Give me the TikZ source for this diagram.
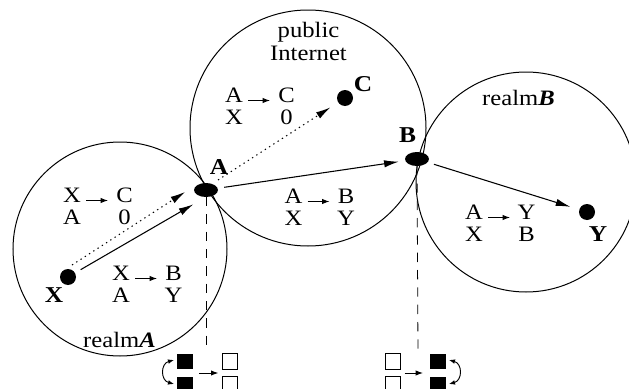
\documentclass[tikz,border=0pt]{standalone}
\usepackage{fontspec}
\setmainfont{Liberation Serif}[FakeStretch=1.12]
\usetikzlibrary{arrows.meta,shapes.geometric,calc}

% two-row address mapping: #1 name, (#2,#3) base of the upper left entry
\newcommand\maptab[7]{%
  \node[cell] (#1a) at (#2,#3) {#4};
  \node[cell] (#1b) at (#2+52.5,#3) {#5};
  \node[cell] (#1c) at (#2,#3+22.5) {#6};
  \node[cell] (#1d) at (#2+52.5,#3+22.5) {#7};
  \draw[tabarrow] ([shift={(14,-1.5)}]#1a.base) -- ([shift={(-16.5,-1.5)}]#1b.base);
}

\begin{document}
\begin{tikzpicture}[x=0.75pt,y=-0.75pt,
  every node/.style={inner sep=0pt, outer sep=0pt},
  txt/.style={font=\fontsize{16.5}{18}\selectfont},
  cell/.style={txt, anchor=base},
  tag/.style={font=\fontsize{17}{18}\selectfont\bfseries, anchor=base},
  realm/.style={circle, draw, line width=0.75pt},
  host/.style={circle, fill, minimum size=12pt},
  router/.style={ellipse, fill, minimum width=18pt, minimum height=10.5pt},
  link/.style={line width=0.8pt, -{Latex[length=11pt,width=5.5pt]}},
  hop/.style={link, dash pattern=on 1pt off 2.8pt},
  tabarrow/.style={line width=0.7pt, -{Latex[length=5.5pt,width=4pt]}},
  swaparrow/.style={line width=0.7pt, {Latex[length=4.5pt,width=3.5pt]}-{Latex[length=4.5pt,width=3.5pt]}},
  tether/.style={line width=0.6pt, dash pattern=on 7pt off 6pt},
  slot/.style={draw, line width=0.6pt, minimum width=11.5pt, minimum height=11.5pt},
  fullslot/.style={fill, minimum width=12pt, minimum height=11.5pt},
]
\useasboundingbox (0,0) rectangle (629,389);
\clip (0,0) rectangle (629,389);

% address realms
\node[realm, minimum size=214*0.75pt] (realmA) at (120,249) {};
\node[realm, minimum size=236*0.75pt] (inet) at (308,128) {};
\node[realm, minimum size=220*0.75pt] (realmB) at (526,182) {};

\node[cell] (realmAname) at (119.5,347) {realm\textbf{\textit{A}}};
\node[cell] (realmBname) at (518.5,105) {realm\textbf{\textit{B}}};
\node[cell] (pub) at (308.5,37.5) {public};
\node[cell] (inetname) at (308.5,60.5) {Internet};

% hosts and middleboxes
\node[host] (X) at (68,277) {};
\node[host] (C) at (345,98) {};
\node[host] (Y) at (587,212) {};
\node[router] (A) at (206,190) {};
\node[router] (B) at (417,159) {};

\node[tag] (labX) at (54,302) {X};
\node[tag] (labC) at (363,91) {C};
\node[tag] (labY) at (598,241) {Y};
\node[tag] (labA) at (219,174) {A};
\node[tag] (labB) at (407.5,142.5) {B};

% packet paths
\draw[link, shorten <=5pt, shorten >=11pt] (X) -- (A.south);
\draw[link, shorten <=5pt, shorten >=5pt] (A) -- (B);
\draw[link, shorten <=5pt, shorten >=7pt] (B) -- (Y);
\draw[hop] ([shift={(4,-12)}]X.center) -- ([shift={(-21,2)}]A.center);
\draw[hop, shorten >=7pt] ([shift={(12,-10)}]A.center) -- (C);

% address translations
\maptab{ta}{72}{202}{X}{C}{A}{0}
\maptab{tb}{121}{280}{X}{B}{A}{Y}
\maptab{tc}{234}{102}{A}{C}{X}{0}
\maptab{td}{293.5}{203}{A}{B}{X}{Y}
\maptab{te}{474}{219}{A}{Y}{X}{B}

% state slots below each middlebox
\node[fullslot] (LB1) at (185,361.5) {};
\node[fullslot] (LB2) at (185,384.5) {};
\node[slot] (LW1) at (230,361.5) {};
\node[slot] (LW2) at (230,384.5) {};
\node[slot] (RW1) at (393,361.5) {};
\node[slot] (RW2) at (393,384.5) {};
\node[fullslot] (RB1) at (438,361.5) {};
\node[fullslot] (RB2) at (438,384.5) {};

\coordinate (Aend) at (206,352);
\coordinate (Bend) at (418,352);
\draw[tether] (A.south) -- (Aend);
\draw[tether] (B.south) -- (Bend);

\draw[tabarrow] ($(LB1.south east)!0.5!(LB2.north east)+(6,0)$) -- ($(LW1.south west)!0.5!(LW2.north west)+(-4,0)$);
\draw[tabarrow] ($(RW1.south east)!0.5!(RW2.north east)+(4,0)$) -- ($(RB1.south west)!0.5!(RB2.north west)+(-7,0)$);
\draw[swaparrow] ([shift={(-3,-1.5)}]LB1.west) to[bend right=75, looseness=1.5] ([shift={(-3,-0.5)}]LB2.west);
\draw[swaparrow] ([shift={(3,-1.5)}]RB1.east) to[bend left=75, looseness=1.5] ([shift={(3,-0.5)}]RB2.east);
\end{tikzpicture}
\end{document}
